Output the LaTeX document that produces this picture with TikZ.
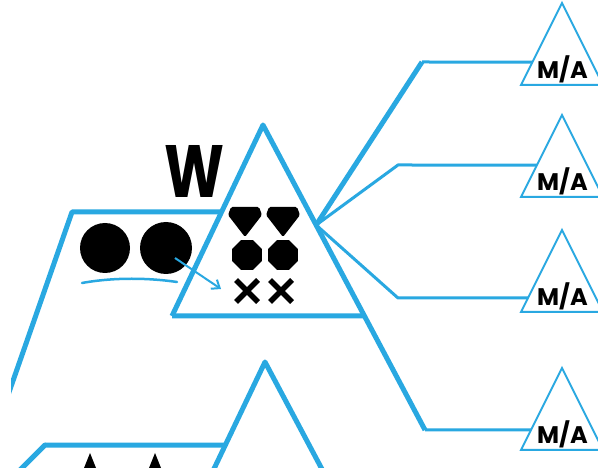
\documentclass[tikz,border=0pt]{standalone}
\usepackage{fontspec}
\setmainfont{Poppins}
\usetikzlibrary{calc,arrows.meta,shapes.geometric}
\definecolor{skyb}{RGB}{41,168,225}
\tikzset{
  bigline/.style={draw=skyb,line width=5pt,line join=round},
  linkline/.style={draw=skyb,line width=3pt,line join=round},
  matri/.style={draw=skyb,line width=2pt,line join=miter},
  malabel/.style={inner sep=0pt,font=\fontsize{24}{24}\selectfont\bfseries},
  blob/.style={circle,fill=black,inner sep=0pt},
  octo/.style={regular polygon,regular polygon sides=8,fill=black,inner sep=0pt,minimum size=32pt},
  crossline/.style={draw=black,line width=5.5pt},
}
\begin{document}
\begin{tikzpicture}[x=1pt,y=-1pt]
\fill[white] (0,0) rectangle (598,473);
\useasboundingbox (0,0) rectangle (598,473);
\begin{scope}
\clip (11,0) rectangle (598,468);
% main triangle
\coordinate (apex) at (263,125);
\coordinate (bl) at (172,316);
\coordinate (rk) at (425,430);
\coordinate (br) at ($(apex)!0.626!(rk)$);
\coordinate (J) at ($(apex)!0.328!(rk)$);
\draw[bigline] (bl) -- (apex) -- (rk);
\draw[bigline] (bl) -- (br);
% left structure
\coordinate (lk) at (72,212);
\coordinate (lj) at ($(apex)!0.455!(bl)$);
\draw[bigline] (0,418) -- (lk) -- (lj);
% bottom structure
\coordinate (bapex) at (265,362);
\coordinate (bk) at (45,445);
\coordinate (bj) at ($(bapex)!0.75!(212,473)$);
\draw[bigline] (212,473) -- (bapex) -- (324,473);
\draw[bigline] (17,473) -- (bk) -- (bj);
\fill (82,473) -- (90,453) -- (98,473) -- cycle;
\fill (147,473) -- (155,453) -- (163,473) -- cycle;
% M/A triangles
\foreach \i/\ay in {1/3,2/115,3/230,4/368}{
  \coordinate (t\i) at (562,\ay);
  \coordinate (tl\i) at (521,\ay+82);
  \coordinate (tr\i) at (603,\ay+82);
  \draw[matri] (tl\i) -- (t\i) -- (tr\i) -- cycle;
  \node[malabel,anchor=base] (ma\i) at (562.5,\ay+76) {M/A};
}
% connectors
\coordinate (k1) at (422,62);
\coordinate (k2) at (398,165);
\coordinate (k3) at (398,298);
\draw[bigline] (J) -- (k1);
\draw[linkline] (k1) -- ($(t1)!0.72!(tl1)$);
\draw[linkline] (J) -- (k2) -- ($(t2)!0.61!(tl2)$);
\draw[linkline] (J) -- (k3) -- ($(t3)!0.829!(tl3)$);
\draw[linkline] (rk) -- ($(t4)!0.756!(tl4)$);
\end{scope}
% W
\node[inner sep=0pt,font=\bfseries] (W) at (195,171.5) {\resizebox{60pt}{52pt}{W}};
% circles
\node[blob,minimum size=50pt] (c1) at (105,248) {};
\node[blob,minimum size=52pt] (c2) at (166,248) {};
\draw[skyb,line width=2.5pt,line cap=round] (82,283) .. controls (115,277) and (150,278) .. (177,282);
\coordinate (arrEnd) at (221,289);
\draw[skyb,line width=2pt,-{Straight Barb[length=7pt,width=11pt]}] (c2.center) ++(9,10) -- (arrEnd);
% gems
\foreach \cx in {245,283}{
  \fill[rounded corners=1.5pt] (\cx-14,207) -- (\cx+14,207) -- (\cx+17,215) -- (\cx,237) -- (\cx-17,215) -- cycle;
}
\node[octo] (o1) at (247,255) {};
\node[octo] (o2) at (283,255) {};
\foreach \cx in {247,281}{
  \draw[crossline] (\cx-11,280) -- (\cx+11,302);
  \draw[crossline] (\cx-11,302) -- (\cx+11,280);
}
\end{tikzpicture}
\end{document}
